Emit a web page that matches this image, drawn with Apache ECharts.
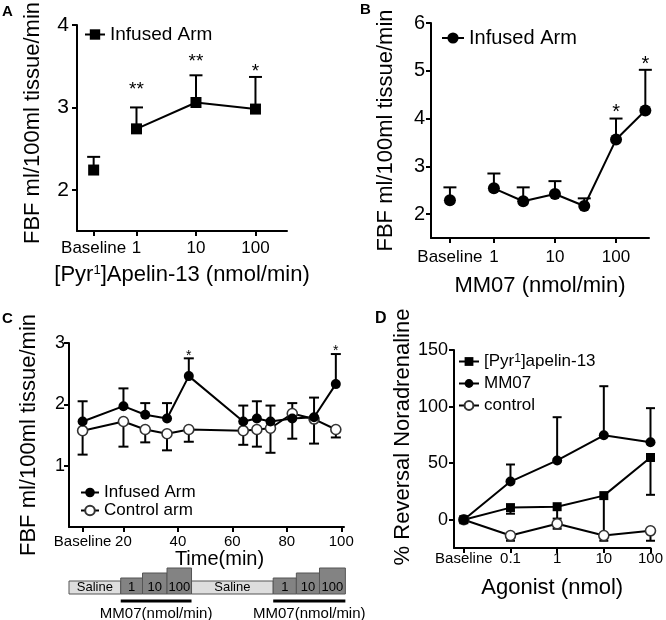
<!DOCTYPE html>
<html><head><meta charset="utf-8">
<script src="https://cdn.jsdelivr.net/npm/echarts@6/dist/echarts.min.js"></script>
<style>html,body{margin:0;padding:0;background:#fff}#c{width:666px;height:620px}</style>
</head><body><div id="c"></div>
<script>
// ---------- Panel A : [Pyr1]Apelin-13 ----------
// x positions are log10(dose); Baseline placed left of 1 nmol/min
const aX = [-0.72, 0, 1, 2];
const aMean = [2.24, 2.74, 3.06, 2.98];
const aErr = [2.40, 3.00, 3.39, 3.37];
const aStarX = [0, 1, 2];
const aStarY = [3.27, 3.61, 3.49];
const aStarText = ['**', '**', '*'];
const aXTicks = [-0.72, 0, 1, 2];
const aXLabels = ['Baseline', '1', '10', '100'];
const aYTicks = [2, 3, 4];

// ---------- Panel B : MM07 ----------
const bX = [-0.72, 0, 0.48, 1, 1.48, 2, 2.48];
const bMean = [2.29, 2.54, 2.27, 2.42, 2.17, 3.56, 4.17];
const bErr = [2.56, 2.85, 2.56, 2.69, 2.33, 4.00, 5.02];
const bStarX = [2, 2.48];
const bStarY = [4.23, 5.23];
const bStarText = ['*', '*'];
const bXTicks = [-0.72, 0, 1, 2];
const bXLabels = ['Baseline', '1', '10', '100'];
const bYTicks = [2, 3, 4, 5, 6];

// ---------- Panel C : time course ----------
const cT = [5, 20, 28, 36, 44, 64, 69, 74, 82, 90, 98];
const cInf = [1.72, 1.97, 1.83, 1.77, 2.46, 1.72, 1.77, 1.72, 1.77, 1.79, 2.33];
const cInfErr = [2.05, 2.26, 2.02, 2.02, 2.75, 1.98, 2.05, 1.98, 1.44, 2.11, 2.82];
const cCtl = [1.57, 1.72, 1.59, 1.52, 1.59, 1.57, 1.59, 1.61, 1.85, 1.76, 1.59];
const cCtlErr = [1.18, 1.31, 1.38, 1.25, 1.39, 1.34, 1.31, 1.21, 2.02, 1.36, 1.46];
const cStarX = [44, 98];
const cStarY = [2.85, 2.92];
const cStarText = ['*', '*'];
const cXTicks = [5, 20, 40, 60, 80, 100];
const cXLabels = ['Baseline', '20', '40', '60', '80', '100'];
const cYTicks = [1, 2, 3];
// infusion timeline (minutes)
const tlStart = [0, 19, 27, 36, 45, 75, 83.5, 92];
const tlEnd = [19, 27, 36, 45, 75, 83.5, 92, 101.5];
const tlLabel = ['Saline', '1', '10', '100', 'Saline', '1', '10', '100'];
const tlLevel = [0, 1, 2, 3, 0, 1, 2, 3];
const mmStart = [19, 75];
const mmEnd = [45, 101.5];
const mmLabel = 'MM07(nmol/min)';

// ---------- Panel D : reversal of noradrenaline ----------
const dX = [-2, -1, 0, 1, 2];
const dPyr = [0, 10.7, 11.5, 21.3, 55];
const dPyrErr = [0, 5.3, 1, -15, 22];
const dMM = [0, 33.7, 52.4, 74.6, 68.4];
const dMMErr = [0, 48.8, 90.6, 118, 98.6];
const dCtl = [0, -14, -3.6, -14, -9.8];
const dCtlErr = [0, -18.6, -8, -18.6, -18.6];
const dXTicks = [-2, -1, 0, 1, 2];
const dXLabels = ['Baseline', '0.1', '1', '10', '100'];
const dYTicks = [0, 50, 100, 150];

// ---------- helpers ----------
const F = 'Liberation Sans, Arial, Helvetica, sans-serif';
const zip = (xs, ys) => xs.map((x, i) => [x, ys[i]]);
function nearestIdx(arr, v) {
  let b = 0;
  arr.forEach((a, i) => { if (Math.abs(a - v) < Math.abs(arr[b] - v)) b = i; });
  return b;
}
function axis(gi, min, max, vals, labels, fs, margin, name, nameFs, gap, extraName) {
  return {
    type: 'value', gridIndex: gi, min: min, max: max,
    splitLine: { show: false },
    axisLine: { show: true, onZero: false, lineStyle: { color: '#000', width: 2 } },
    axisTick: { show: true, length: 5, lineStyle: { color: '#000', width: 2 }, customValues: vals },
    axisLabel: {
      customValues: vals, color: '#000', fontFamily: F, fontSize: fs, margin: margin,
      formatter: v => labels[nearestIdx(vals, v)]
    },
    name: name, nameLocation: 'middle', nameGap: gap,
    nameTextStyle: Object.assign({ color: '#000', fontFamily: F, fontSize: nameFs }, extraName || {})
  };
}
function line(gi, name, xs, ys, symbol, size, hollow) {
  return {
    type: 'line', name: name, xAxisIndex: gi, yAxisIndex: gi, data: zip(xs, ys),
    symbol: symbol, symbolSize: size, showSymbol: true, z: 3, silent: true, animation: false,
    lineStyle: { color: '#000', width: 2 },
    itemStyle: hollow ? { color: '#fff', borderColor: '#333', borderWidth: 1.6 } : { color: '#000', borderWidth: 0 }
  };
}
function errBars(gi, xs, means, ends, cap) {
  const data = [];
  xs.forEach((x, i) => { if (ends[i] !== means[i]) data.push([x, means[i], ends[i]]); });
  return {
    type: 'custom', xAxisIndex: gi, yAxisIndex: gi, data: data, z: 1, silent: true, animation: false,
    encode: { x: 0, y: [1, 2] },
    renderItem: function (params, api) {
      const p0 = api.coord([api.value(0), api.value(1)]);
      const p1 = api.coord([api.value(0), api.value(2)]);
      const st = { stroke: '#000', lineWidth: 2 };
      return { type: 'group', children: [
        { type: 'line', shape: { x1: p0[0], y1: p0[1], x2: p1[0], y2: p1[1] }, style: st },
        { type: 'line', shape: { x1: p1[0] - cap / 2, y1: p1[1], x2: p1[0] + cap / 2, y2: p1[1] }, style: st }
      ] };
    }
  };
}
function stars(gi, xs, ys, texts, fs) {
  return {
    type: 'custom', xAxisIndex: gi, yAxisIndex: gi, data: zip(xs, ys), z: 4, silent: true, animation: false,
    encode: { x: 0, y: 1 },
    renderItem: function (params, api) {
      const p = api.coord([api.value(0), api.value(1)]);
      return { type: 'text', x: p[0], y: p[1] + fs * 0.25,
        style: { text: texts[params.dataIndex], fontSize: fs, fontFamily: F, fill: '#000', align: 'center', verticalAlign: 'middle' } };
    }
  };
}
const levelH = [13, 16, 21, 26];
const timeline = {
  type: 'custom', xAxisIndex: 2, yAxisIndex: 2, data: tlStart.map(s => [s, 0]), z: 2, silent: true, animation: false,
  encode: { x: 0, y: 1 }, clip: false,
  renderItem: function (params, api) {
    const i = params.dataIndex;
    const x0 = api.coord([tlStart[i], 0])[0];
    const x1 = api.coord([tlEnd[i], 0])[0];
    const base = api.coord([0, 0])[1];
    const bottom = base + 67;
    const h = levelH[tlLevel[i]];
    return { type: 'group', children: [
      { type: 'rect', shape: { x: x0, y: bottom - h, width: x1 - x0, height: h },
        style: { fill: tlLevel[i] === 0 ? '#dedede' : '#838383', stroke: '#555', lineWidth: 1 } },
      { type: 'text', x: (x0 + x1) / 2, y: bottom - 6.5,
        style: { text: tlLabel[i], fontSize: 13, fontFamily: F, fill: '#000', align: 'center', verticalAlign: 'middle' } }
    ] };
  }
};
const mmBars = {
  type: 'custom', xAxisIndex: 2, yAxisIndex: 2, data: mmStart.map(s => [s, 0]), z: 2, silent: true, animation: false,
  encode: { x: 0, y: 1 }, clip: false,
  renderItem: function (params, api) {
    const i = params.dataIndex;
    const x0 = api.coord([mmStart[i], 0])[0];
    const x1 = api.coord([mmEnd[i], 0])[0];
    const base = api.coord([0, 0])[1];
    return { type: 'group', children: [
      { type: 'line', shape: { x1: x0, y1: base + 74, x2: x1, y2: base + 74 }, style: { stroke: '#000', lineWidth: 3 } },
      { type: 'text', x: (x0 + x1) / 2, y: base + 87,
        style: { text: mmLabel, fontSize: 15, fontFamily: F, fill: '#000', align: 'center', verticalAlign: 'middle' } }
    ] };
  }
};

const stripName = n => n.split('|')[0];
const supRich = { s: { fontSize: 12, fontFamily: F, verticalAlign: 'top', color: '#000' } };

const option = {
  animation: false,
  backgroundColor: '#fff',
  grid: [
    { left: 77, top: 22, width: 210, height: 209 },
    { left: 431, top: 23, width: 218, height: 215 },
    { left: 69, top: 343, width: 275, height: 184 },
    { left: 454, top: 350, width: 198, height: 198 }
  ],
  xAxis: [
    axis(0, -1, 2.53, aXTicks, aXLabels, 17, 9, '[Pyr{s|1}]Apelin-13 (nmol/min)', 22, 33, { rich: { s: { fontSize: 13, fontFamily: F, verticalAlign: 'top', color: '#000' } } }),
    axis(1, -1.03, 2.54, bXTicks, bXLabels, 17, 11, 'MM07 (nmol/min)', 22, 37),
    axis(2, 0, 101, cXTicks, cXLabels, 15, 7, 'Time(min)', 20, 20, { padding: [0, 0, 0, 26] }),
    axis(3, -2.21, 2, dXTicks, dXLabels, 15, 3, 'Agonist (nmol)', 22, 29)
  ],
  yAxis: [
    axis(0, 1.5, 4, aYTicks, aYTicks.map(String), 21, 8, 'FBF ml/100ml tissue/min', 22, 33, { padding: [0, 0, 0, 10] }),
    axis(1, 1.5, 6, bYTicks, bYTicks.map(String), 20, 6, 'FBF ml/100ml tissue/min', 22, 34),
    axis(2, 0, 3, cYTicks, cYTicks.map(String), 18, 4, 'FBF ml/100ml tissue/min', 22, 29),
    axis(3, -25, 150, dYTicks, dYTicks.map(String), 18, 6, '% Reversal Noradrenaline', 22, 35, { padding: [0, 0, 0, 24] })
  ],
  legend: [
    { data: ['Infused Arm|A'], left: 84, top: 25, padding: 0, itemWidth: 20, itemHeight: 13, selectedMode: false,
      formatter: stripName, textStyle: { fontSize: 19, fontFamily: F, color: '#000' } },
    { data: ['Infused Arm|B'], left: 441, top: 28, padding: 0, itemWidth: 22, itemHeight: 14, selectedMode: false,
      formatter: stripName, textStyle: { fontSize: 20, fontFamily: F, color: '#000' } },
    { data: ['Infused Arm|C', 'Control arm'], left: 80, top: 484, padding: 0, orient: 'vertical', itemGap: 1,
      itemWidth: 18, itemHeight: 12, selectedMode: false,
      formatter: stripName, textStyle: { fontSize: 17, fontFamily: F, color: '#000' } },
    { data: ['[Pyr1]apelin-13', 'MM07', 'control'], left: 458, top: 353, padding: 0, orient: 'vertical', itemGap: 5,
      itemWidth: 20, itemHeight: 11, selectedMode: false,
      formatter: n => n === '[Pyr1]apelin-13' ? '[Pyr{s|1}]apelin-13' : n,
      textStyle: { fontSize: 17, fontFamily: F, color: '#000', rich: supRich } }
  ],
  graphic: [
    { type: 'text', left: 2, top: 4, style: { text: 'A', font: 'bold 15px ' + F, fill: '#000' } },
    { type: 'text', left: 360, top: 2, style: { text: 'B', font: 'bold 15px ' + F, fill: '#000' } },
    { type: 'text', left: 2, top: 311, style: { text: 'C', font: 'bold 15px ' + F, fill: '#000' } },
    { type: 'text', left: 375, top: 311, style: { text: 'D', font: 'bold 16px ' + F, fill: '#000' } }
  ],
  series: [
    // A
    errBars(0, aX, aMean, aErr, 13),
    line(0, 'A baseline', aX.slice(0, 1), aMean.slice(0, 1), 'rect', 11, false),
    line(0, 'Infused Arm|A', aX.slice(1), aMean.slice(1), 'rect', 11, false),
    stars(0, aStarX, aStarY, aStarText, 19),
    // B
    errBars(1, bX, bMean, bErr, 13),
    line(1, 'B baseline', bX.slice(0, 1), bMean.slice(0, 1), 'circle', 12, false),
    line(1, 'Infused Arm|B', bX.slice(1), bMean.slice(1), 'circle', 12, false),
    stars(1, bStarX, bStarY, bStarText, 20),
    // C
    errBars(2, cT, cInf, cInfErr, 10),
    errBars(2, cT, cCtl, cCtlErr, 10),
    line(2, 'Control arm', cT, cCtl, 'circle', 10, true),
    line(2, 'Infused Arm|C', cT, cInf, 'circle', 10, false),
    stars(2, cStarX, cStarY, cStarText, 14),
    timeline, mmBars,
    // D
    errBars(3, dX, dPyr, dPyrErr, 9),
    errBars(3, dX, dMM, dMMErr, 9),
    errBars(3, dX, dCtl, dCtlErr, 9),
    line(3, 'control', dX, dCtl, 'circle', 10, true),
    line(3, '[Pyr1]apelin-13', dX, dPyr, 'rect', 9, false),
    line(3, 'MM07', dX, dMM, 'circle', 10, false)
  ]
};
const chart = echarts.init(document.getElementById('c'), null, { renderer: 'canvas' });
chart.setOption(option);
</script>
</body></html>
